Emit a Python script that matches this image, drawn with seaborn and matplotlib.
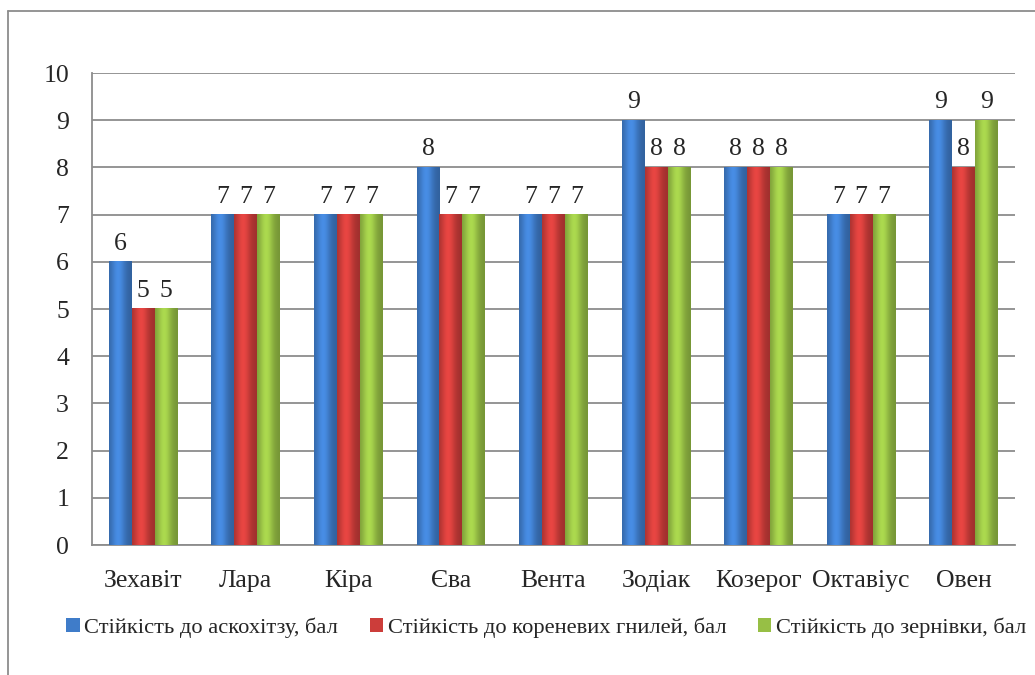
import numpy as np
import pandas as pd
import matplotlib
matplotlib.use("Agg")
import matplotlib.pyplot as plt
from matplotlib.colors import to_rgb
from matplotlib.lines import Line2D
from matplotlib.patches import Patch
import seaborn as sns

categories = ["Зехавіт", "Лара", "Кіра", "Єва", "Вента", "Зодіак", "Козерог", "Октавіус", "Овен"]
series_names = ["Стійкість до аскохітзу, бал",
                "Стійкість до кореневих гнилей, бал",
                "Стійкість до зернівки, бал"]
ascochyta = [6, 7, 7, 8, 7, 9, 8, 7, 9]
root_rot = [5, 7, 7, 7, 7, 8, 8, 7, 8]
weevil = [5, 7, 7, 7, 7, 8, 8, 7, 9]
y_ticks = [0, 1, 2, 3, 4, 5, 6, 7, 8, 9, 10]

colors = ["#3f7cc9", "#cc3d3a", "#97bf45"]

df = pd.DataFrame({
    "cat": categories * 3,
    "series": sum([[s] * len(categories) for s in series_names], []),
    "val": ascochyta + root_rot + weevil,
})

sns.set_style("white")
plt.rcParams["font.family"] = ["Liberation Serif", "DejaVu Serif"]

FS = 18.5
fig = plt.figure(figsize=(10.35, 6.75), dpi=100)
ax = fig.add_axes([92 / 1035, 1 - 545 / 675, (1015 - 92) / 1035, (545 - 73) / 675])

sns.barplot(data=df, x="cat", y="val", hue="series", order=categories,
            hue_order=series_names, palette=colors, width=0.67, ax=ax,
            saturation=1, legend=False, zorder=3, edgecolor="none", linewidth=0)

ax.set_xlim(-0.5, len(categories) - 0.5)
ax.set_ylim(0, 10)
ax.set_yticks(y_ticks)
ax.set_yticklabels([str(t) for t in y_ticks], fontsize=FS)
ax.set_xticks(range(len(categories)))
ax.set_xticklabels(categories, fontsize=FS)
ax.set_xticks(np.arange(-0.5, len(categories), 1), minor=True)
ax.tick_params(axis="x", which="major", length=0, pad=18)
ax.tick_params(axis="x", which="minor", length=6, width=1.2, color="#8c8c8c", direction="out")
ax.tick_params(axis="y", length=6.5, width=1.2, color="#8c8c8c", direction="out", pad=10)
ax.set_xlabel("")
ax.set_ylabel("")
ax.yaxis.grid(True, color="#8c8c8c", lw=1.3, zorder=0)
ax.set_axisbelow(True)
for side in ["top", "right"]:
    ax.spines[side].set_visible(False)
for side in ["left", "bottom"]:
    ax.spines[side].set_color("#8c8c8c")
    ax.spines[side].set_linewidth(1.3)

# cylinder-like shading and value labels
n = len(categories)
for i, patch in enumerate(ax.patches[: 3 * n]):
    s = i // n
    base = np.array(to_rgb(colors[s]))
    x0, w, h = patch.get_x(), patch.get_width(), patch.get_height()
    t = np.linspace(0, 1, 64)
    shade = 0.78 + 0.36 * np.exp(-((t - 0.4) / 0.32) ** 2)
    rgb = np.clip(base[None, :] * shade[:, None], 0, 1)
    rgba = np.concatenate([rgb, np.ones((64, 1))], axis=1)[None, :, :]
    ax.imshow(rgba, extent=[x0, x0 + w, 0, h], aspect="auto", zorder=4,
              clip_path=patch, clip_on=True, interpolation="bilinear")
    ax.annotate(f"{h:g}", (x0 + w / 2, h), xytext=(0, 5), textcoords="offset points",
                ha="center", va="bottom", fontsize=FS, zorder=5)

ax.set_xlim(-0.5, len(categories) - 0.5)
ax.set_ylim(0, 10)

handles = [Patch(facecolor=c, edgecolor="none") for c in colors]
fig.legend(handles, series_names, loc="center", bbox_to_anchor=(546 / 1035, 1 - 628 / 675),
           ncol=3, frameon=False, fontsize=16.2, handlelength=0.6, handleheight=0.6,
           handletextpad=0.2, columnspacing=1.4, borderpad=0, borderaxespad=0)

# outer chart border (top and left visible)
fig.add_artist(Line2D([8 / 1035, 1.0], [1 - 11 / 675, 1 - 11 / 675], color="#8c8c8c", lw=1.3,
                      transform=fig.transFigure))
fig.add_artist(Line2D([8 / 1035, 8 / 1035], [0.0, 1 - 11 / 675], color="#8c8c8c", lw=1.3,
                      transform=fig.transFigure))

fig.savefig("out.png", dpi=100)
